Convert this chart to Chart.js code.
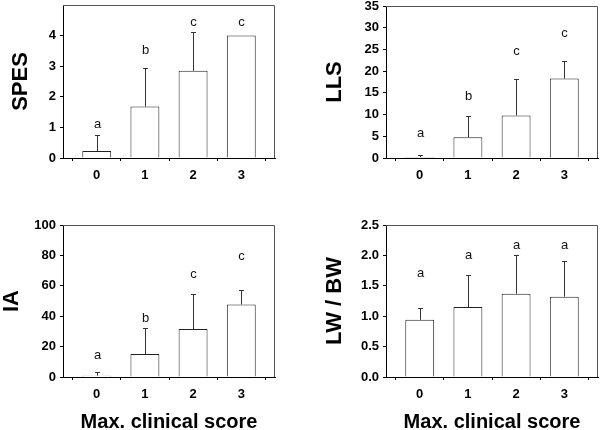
<!DOCTYPE html>
<html lang="en">
<head>
<meta charset="UTF-8">
<title>Max. clinical score panels</title>
<script src="https://cdn.jsdelivr.net/npm/chart.js"></script>
<style>
  html, body { margin: 0; padding: 0; background: #fff; overflow: hidden; }
  .wrap { position: relative; width: 600px; height: 430px; }
  .wrap canvas { position: absolute; }
</style>
</head>
<body>
<div class="wrap">
  <canvas id="spesChart" width="300" height="200" style="left:0;top:0;width:300px;height:200px"></canvas>
  <canvas id="llsChart" width="300" height="200" style="left:300px;top:0;width:300px;height:200px"></canvas>
  <canvas id="iaChart" width="300" height="232" style="left:0;top:200px;width:300px;height:232px"></canvas>
  <canvas id="lwbwChart" width="300" height="232" style="left:300px;top:200px;width:300px;height:232px"></canvas>
</div>
<script>
  // data
  const scores = [0, 1, 2, 3];

  const spesMean = [0.23, 1.68, 2.85, 4.0];
  const spesSd = [0.52, 1.26, 1.27, 0];
  const spesLetters = ['a', 'b', 'c', 'c'];
  const spesLetterPos = [1.1, 3.5, 4.42, 4.42];
  const spesTicks = [0, 1, 2, 3, 4];

  const llsMean = [0.23, 4.78, 9.8, 18.3];
  const llsSd = [0.47, 5.0, 8.4, 4.0];
  const llsLetters = ['a', 'b', 'c', 'c'];
  const llsLetterPos = [5.7, 14.2, 24.6, 28.8];
  const llsTicks = [0, 5, 10, 15, 20, 25, 30, 35];

  const iaMean = [0.9, 15.1, 31.5, 47.7];
  const iaSd = [2.2, 17.1, 23.0, 9.6];
  const iaLetters = ['a', 'b', 'c', 'c'];
  const iaLetterPos = [14, 38.3, 67.8, 79.6];
  const iaTicks = [0, 20, 40, 60, 80, 100];

  const lwbwMean = [0.94, 1.15, 1.37, 1.32];
  const lwbwSd = [0.20, 0.53, 0.64, 0.58];
  const lwbwLetters = ['a', 'a', 'a', 'a'];
  const lwbwLetterPos = [1.70, 2.0, 2.16, 2.16];
  const lwbwTicks = [0, 0.5, 1.0, 1.5, 2.0, 2.5];

  const FONT = "'Liberation Sans', Arial, Helvetica, sans-serif";

  // error bars, letters and the top/right frame
  function extrasPlugin(p) {
    return {
      id: 'extras',
      afterDatasetsDraw(chart) {
        const { ctx, chartArea: a, scales: { x, y } } = chart;
        ctx.save();
        ctx.lineWidth = 1;
        ctx.strokeStyle = '#555';
        ctx.beginPath();
        ctx.moveTo(a.left, a.top + 0.5);
        ctx.lineTo(a.right - 0.5, a.top + 0.5);
        ctx.lineTo(a.right - 0.5, a.bottom);
        ctx.stroke();

        ctx.strokeStyle = '#333';
        ctx.fillStyle = '#111';
        ctx.font = '13px ' + FONT;
        ctx.textAlign = 'center';
        ctx.textBaseline = 'middle';
        p.mean.forEach((m, i) => {
          const px = Math.round(x.getPixelForValue(scores[i])) + 0.5;
          if (p.sd[i] > 0) {
            const y0 = y.getPixelForValue(m);
            const y1 = Math.round(y.getPixelForValue(m + p.sd[i])) + 0.5;
            ctx.beginPath();
            ctx.moveTo(px, y0);
            ctx.lineTo(px, y1);
            ctx.moveTo(px - 2.5, y1);
            ctx.lineTo(px + 2.5, y1);
            ctx.stroke();
          }
          ctx.fillText(p.letters[i], px, y.getPixelForValue(p.letterPos[i]));
        });
        ctx.restore();
      }
    };
  }

  function makePanel(id, p) {
    new Chart(document.getElementById(id), {
      type: 'bar',
      data: {
        datasets: [{
          data: scores.map((s, i) => ({ x: s, y: p.mean[i] })),
          backgroundColor: '#fff',
          borderColor: '#222',
          borderWidth: 1,
          barPercentage: 0.6,
          categoryPercentage: 1
        }]
      },
      options: {
        responsive: false,
        animation: false,
        layout: { padding: p.pad },
        plugins: { legend: { display: false }, tooltip: { enabled: false } },
        scales: {
          x: {
            type: 'linear',
            min: -0.7,
            max: 3.7,
            offset: false,
            afterBuildTicks: s => { s.ticks = scores.map(v => ({ value: v })); },
            afterFit: s => { s.height = p.axisH; s.paddingLeft = 0; s.paddingRight = 0; },
            grid: { drawOnChartArea: false, tickLength: 3, color: '#000' },
            border: { color: '#000', width: 1 },
            ticks: { color: '#000', padding: 7, maxRotation: 0, font: { family: FONT, size: 13, weight: 'bold' } },
            title: {
              display: p.xTitle,
              text: 'Max. clinical score',
              color: '#000',
              font: { family: FONT, size: 20, weight: 'bold', lineHeight: 1 },
              padding: { top: 0, bottom: 0 }
            }
          },
          y: {
            min: 0,
            max: p.yMax,
            afterBuildTicks: s => { s.ticks = p.ticks.map(v => ({ value: v })); },
            afterFit: s => { s.width = p.axisW; s.paddingTop = 0; s.paddingBottom = 0; },
            grid: { drawOnChartArea: false, tickLength: 3, color: '#000' },
            border: { color: '#000', width: 1 },
            ticks: {
              color: '#000',
              padding: 4,
              font: { family: FONT, size: 13, weight: 'bold' },
              callback: v => Number(v).toFixed(p.decimals)
            },
            title: {
              display: true,
              text: p.label,
              color: '#000',
              font: { family: FONT, size: 22, weight: 'bold', lineHeight: 1 },
              padding: { top: p.titlePad, bottom: 0 }
            }
          }
        }
      },
      plugins: [extrasPlugin(p)]
    });
  }

  makePanel('spesChart', {
    label: 'SPES', mean: spesMean, sd: spesSd, letters: spesLetters, letterPos: spesLetterPos,
    ticks: spesTicks, yMax: 5, decimals: 0, axisW: 63, axisH: 42, titlePad: 10,
    pad: { top: 5, right: 25, left: 0, bottom: 0 }, xTitle: false
  });
  makePanel('llsChart', {
    label: 'LLS', mean: llsMean, sd: llsSd, letters: llsLetters, letterPos: llsLetterPos,
    ticks: llsTicks, yMax: 35, decimals: 0, axisW: 86, axisH: 42, titlePad: 24,
    pad: { top: 6, right: 2, left: 0, bottom: 0 }, xTitle: false
  });
  makePanel('iaChart', {
    label: 'IA', mean: iaMean, sd: iaSd, letters: iaLetters, letterPos: iaLetterPos,
    ticks: iaTicks, yMax: 100, decimals: 0, axisW: 63, axisH: 55, titlePad: 1,
    pad: { top: 25, right: 25, left: 0, bottom: 0 }, xTitle: true
  });
  makePanel('lwbwChart', {
    label: 'LW / BW', mean: lwbwMean, sd: lwbwSd, letters: lwbwLetters, letterPos: lwbwLetterPos,
    ticks: lwbwTicks, yMax: 2.5, decimals: 1, axisW: 86, axisH: 55, titlePad: 24,
    pad: { top: 25, right: 2, left: 0, bottom: 0 }, xTitle: true
  });
</script>
</body>
</html>
